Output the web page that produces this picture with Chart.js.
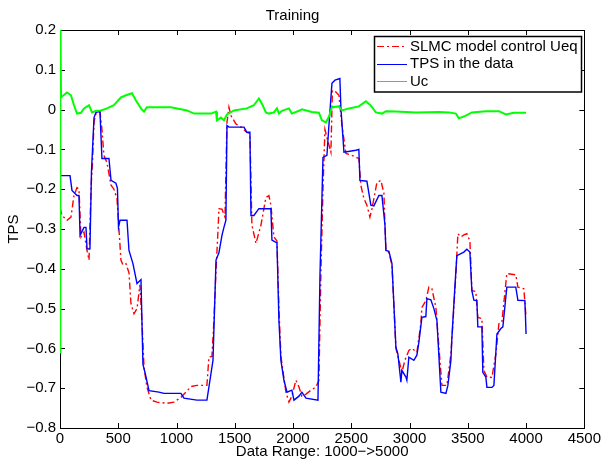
<!DOCTYPE html>
<html><head><meta charset="utf-8">
<script src="https://cdn.jsdelivr.net/npm/chart.js@4/dist/chart.umd.min.js"></script>
<style>html,body{margin:0;padding:0;background:#fff}#wrap{width:603px;height:465px}</style>
</head><body><div id="wrap"><canvas id="c" width="603" height="465"></canvas></div>
<script>
const chartTitle = 'Training';
const xTitle = 'Data Range: 1000\u2212>5000';
const yTitle = 'TPS';
const xTicks = [0, 500, 1000, 1500, 2000, 2500, 3000, 3500, 4000, 4500];
const yTicks = [-0.8, -0.7, -0.6, -0.5, -0.4, -0.3, -0.2, -0.1, 0, 0.1, 0.2];
const seriesLabels = ['SLMC model control Ueq', 'TPS in the data', 'Uc'];

// SLMC model control Ueq (red dash-dot)
const ueqX = [0,17,60,94,120,146,163,180,206,232,249,266,279,292,309,343,360,377,403,438,463,489,506,523,540,566,592,609,635,661,686,703,721,746,781,832,918,978,1038,1081,1124,1175,1261,1278,1304,1321,1339,1356,1364,1390,1416,1433,1450,1467,1510,1553,1604,1630,1647,1682,1725,1767,1793,1810,1836,1862,1879,1896,1939,1965,1990,2025,2051,2076,2111,2154,2197,2222,2240,2257,2274,2291,2325,2338,2368,2394,2420,2454,2505,2565,2582,2608,2634,2660,2677,2720,2754,2780,2789,2797,2823,2849,2883,2909,2934,2960,2994,3020,3063,3097,3106,3140,3166,3192,3226,3252,3278,3321,3355,3372,3398,3415,3441,3466,3492,3518,3535,3569,3586,3621,3638,3664,3707,3741,3767,3792,3835,3912,3930,3981,4000];
const ueqY = [-0.246,-0.266,-0.278,-0.27,-0.216,-0.196,-0.2,-0.32,-0.308,-0.354,-0.378,-0.2,-0.13,-0.03,-0.01,-0.005,-0.05,-0.115,-0.133,-0.19,-0.2,-0.223,-0.3,-0.378,-0.39,-0.387,-0.41,-0.487,-0.513,-0.5,-0.44,-0.53,-0.647,-0.697,-0.73,-0.735,-0.738,-0.735,-0.723,-0.71,-0.696,-0.693,-0.693,-0.622,-0.62,-0.53,-0.404,-0.304,-0.249,-0.25,-0.27,-0.032,0.006,-0.015,-0.036,-0.044,-0.057,-0.06,-0.29,-0.336,-0.29,-0.221,-0.216,-0.24,-0.32,-0.33,-0.5,-0.62,-0.71,-0.735,-0.72,-0.68,-0.697,-0.72,-0.715,-0.705,-0.697,-0.68,-0.4,-0.2,-0.05,-0.07,-0.107,0.048,0.044,0.036,-0.04,-0.11,-0.115,-0.123,-0.19,-0.223,-0.24,-0.27,-0.25,-0.183,-0.178,-0.21,-0.29,-0.35,-0.36,-0.39,-0.6,-0.63,-0.66,-0.63,-0.605,-0.6,-0.61,-0.538,-0.497,-0.48,-0.446,-0.45,-0.497,-0.597,-0.693,-0.693,-0.614,-0.538,-0.412,-0.312,-0.32,-0.315,-0.312,-0.33,-0.455,-0.457,-0.522,-0.525,-0.655,-0.672,-0.673,-0.614,-0.538,-0.535,-0.412,-0.415,-0.446,-0.45,-0.522];

// TPS in the data (blue)
const tpsX = [0,86,103,146,163,172,206,223,232,257,270,292,309,343,360,420,438,480,493,502,515,575,592,626,661,695,712,729,764,849,892,1038,1064,1175,1261,1296,1313,1339,1364,1390,1407,1424,1433,1450,1579,1604,1630,1639,1664,1707,1810,1819,1862,1879,1896,1922,1948,1990,2008,2051,2076,2111,2214,2231,2257,2291,2308,2334,2360,2402,2411,2437,2540,2565,2574,2634,2668,2694,2737,2763,2789,2797,2823,2849,2883,2900,2926,2934,2969,2977,2994,3037,3063,3080,3106,3140,3149,3183,3209,3235,3269,3312,3329,3355,3363,3389,3406,3466,3492,3518,3535,3552,3578,3586,3621,3629,3655,3664,3707,3724,3750,3784,3801,3835,3912,3930,3990,3994,4000];
const tpsY = [-0.166,-0.166,-0.203,-0.216,-0.216,-0.316,-0.296,-0.296,-0.35,-0.35,-0.157,-0.02,-0.007,-0.005,-0.123,-0.123,-0.178,-0.185,-0.198,-0.295,-0.278,-0.278,-0.354,-0.387,-0.437,-0.427,-0.64,-0.66,-0.706,-0.71,-0.713,-0.713,-0.725,-0.73,-0.73,-0.663,-0.63,-0.378,-0.36,-0.316,-0.296,-0.278,-0.04,-0.044,-0.044,-0.057,-0.057,-0.266,-0.266,-0.249,-0.249,-0.328,-0.335,-0.53,-0.63,-0.68,-0.71,-0.705,-0.73,-0.72,-0.71,-0.725,-0.73,-0.42,-0.12,-0.115,-0.04,0.066,0.074,0.078,0.003,-0.107,-0.102,-0.1,-0.178,-0.18,-0.24,-0.242,-0.216,-0.216,-0.29,-0.354,-0.356,-0.387,-0.597,-0.614,-0.685,-0.655,-0.672,-0.68,-0.622,-0.63,-0.617,-0.585,-0.522,-0.52,-0.475,-0.478,-0.5,-0.53,-0.71,-0.713,-0.693,-0.63,-0.575,-0.446,-0.367,-0.358,-0.351,-0.358,-0.455,-0.479,-0.48,-0.546,-0.546,-0.66,-0.672,-0.698,-0.698,-0.693,-0.564,-0.55,-0.546,-0.446,-0.446,-0.479,-0.48,-0.512,-0.564];

// Uc (green)
const ucX = [0,3,9,60,94,120,146,180,206,249,275,309,352,403,463,523,566,618,652,695,721,746,952,1090,1150,1296,1339,1347,1381,1407,1433,1493,1604,1664,1707,1733,1767,1793,1836,1862,1879,1905,1965,1990,2051,2076,2162,2222,2248,2282,2308,2334,2394,2420,2480,2565,2625,2668,2711,2763,2797,2883,2969,3054,3252,3338,3398,3423,3483,3535,3655,3767,3827,3895,4000];
const ucY = [-0.61,0.25,0.031,0.043,0.036,0.011,-0.01,-0.008,0.003,0.011,-0.007,-0.003,-0.002,0.003,0.011,0.031,0.036,0.041,0.023,0.003,-0.005,0.006,0.006,-0.002,-0.01,-0.01,-0.005,-0.027,-0.02,-0.027,-0.012,-0.002,0.003,0.011,0.028,0.015,-0.007,-0.01,-0.007,0.003,-0.01,-0.003,0.003,-0.01,-0.003,0.001,-0.006,-0.008,-0.027,-0.032,-0.018,0.006,0.008,-0.002,0.003,0.008,0.021,0.01,-0.007,-0.01,-0.004,-0.005,-0.006,-0.007,-0.006,-0.007,-0.01,-0.022,-0.015,-0.007,-0.004,-0.004,-0.012,-0.008,-0.008];

const pts = (xs, ys) => xs.map((x, i) => ({x, y: ys[i]}));
const FONT = 'Liberation Sans, Arial, Helvetica, sans-serif';
const FS = 15;
Chart.defaults.font.family = FONT;
Chart.defaults.font.size = FS;
Chart.defaults.color = '#000';

const boxPlugin = {
  id: 'boxTicks',
  beforeDatasetsDraw(chart) {
    const {ctx, chartArea: a, scales} = chart;
    ctx.save();
    ctx.strokeStyle = '#000';
    ctx.lineWidth = 1;
    ctx.strokeRect(Math.round(a.left) + 0.5, Math.round(a.top) + 0.5, Math.round(a.right - a.left), Math.round(a.bottom - a.top));
    const L = 5;
    ctx.beginPath();
    scales.x.ticks.forEach(t => {
      const px = Math.round(scales.x.getPixelForValue(t.value)) + 0.5;
      ctx.moveTo(px, a.bottom); ctx.lineTo(px, a.bottom - L);
      ctx.moveTo(px, a.top); ctx.lineTo(px, a.top + L);
    });
    scales.y.ticks.forEach(t => {
      const py = Math.round(scales.y.getPixelForValue(t.value)) + 0.5;
      ctx.moveTo(a.left, py); ctx.lineTo(a.left + L, py);
      ctx.moveTo(a.right, py); ctx.lineTo(a.right - L, py);
    });
    ctx.stroke();
    ctx.restore();
  }
};

const legendPlugin = {
  id: 'innerLegend',
  afterDraw(chart) {
    const {ctx, chartArea: a} = chart;
    const ds = chart.data.datasets;
    ctx.save();
    ctx.font = FS + 'px ' + FONT;
    const tw = Math.max(...ds.map(d => ctx.measureText(d.label).width));
    const w = 3 + 30 + 3 + tw + 3;
    const rowH = 17.5;
    const h = ds.length * rowH + 3;
    const right = Math.round(a.right) - 3;
    const left = Math.round(right - w);
    const top = Math.round(a.top) + 6;
    ctx.fillStyle = '#fff';
    ctx.fillRect(left, top, right - left, h);
    ctx.strokeStyle = '#000';
    ctx.lineWidth = 1.5;
    ctx.strokeRect(left + 0.5, top + 0.5, right - left, h);
    ds.forEach((d, i) => {
      const cy = top + 10 + i * rowH;
      ctx.strokeStyle = d.borderColor;
      ctx.lineWidth = 1;
      ctx.setLineDash(d.borderDash || []);
      ctx.beginPath();
      ctx.moveTo(left + 3, Math.round(cy) + 0.5);
      ctx.lineTo(left + 33, Math.round(cy) + 0.5);
      ctx.stroke();
      ctx.setLineDash([]);
      ctx.fillStyle = '#000';
      ctx.textBaseline = 'middle';
      ctx.textAlign = 'left';
      ctx.fillText(d.label, left + 36, cy + 0.5);
    });
    ctx.restore();
  }
};

const fmtY = v => { const r = Math.round(v * 10) / 10; return r === 0 ? '0' : String(r).replace('-', '\u2212'); };

new Chart(document.getElementById('c'), {
  type: 'line',
  data: {
    datasets: [
      {label: seriesLabels[0], data: pts(ueqX, ueqY), borderColor: '#ff0000', borderWidth: 1.4, borderDash: [7, 3, 2, 3], pointRadius: 0, tension: 0, order: 3},
      {label: seriesLabels[1], data: pts(tpsX, tpsY), borderColor: '#0000ff', borderWidth: 1.4, pointRadius: 0, tension: 0, order: 2},
      {label: seriesLabels[2], data: pts(ucX, ucY), borderColor: '#00ff00', borderWidth: 2, pointRadius: 0, tension: 0, order: 1}
    ]
  },
  options: {
    responsive: false,
    animation: false,
    events: [],
    layout: {padding: {left: 0, right: 18, top: 0, bottom: 0}},
    plugins: {
      legend: {display: false},
      tooltip: {enabled: false},
      title: {display: true, text: chartTitle, font: {size: FS, weight: 'normal'}, color: '#000', padding: {top: 7, bottom: 5}}
    },
    scales: {
      x: {
        type: 'linear', min: 0, max: 4500,
        afterBuildTicks: s => { s.ticks = xTicks.map(v => ({value: v})); },
        afterFit: s => { s.height = 37; },
        grid: {display: false, drawTicks: false},
        border: {display: false},
        ticks: {padding: 2, maxRotation: 0, autoSkip: false, callback: v => String(v)},
        title: {display: true, text: xTitle, font: {size: FS}, padding: {top: 0, bottom: 4}}
      },
      y: {
        type: 'linear', min: -0.8, max: 0.2,
        afterBuildTicks: s => { s.ticks = yTicks.map(v => ({value: v})); },
        afterFit: s => { s.width = 60; },
        grid: {display: false, drawTicks: false},
        border: {display: false},
        ticks: {padding: 4, autoSkip: false, callback: fmtY},
        title: {display: true, text: yTitle, font: {size: FS}, padding: {top: 5, bottom: 0}}
      }
    }
  },
  plugins: [boxPlugin, legendPlugin]
});
</script></body></html>
